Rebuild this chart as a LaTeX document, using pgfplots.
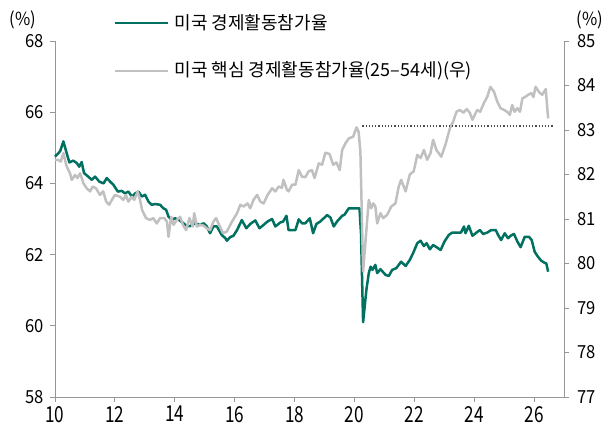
\documentclass[border=0pt]{standalone}
\usepackage{pgfplots}
\pgfplotsset{compat=1.18}
\usepackage{fontspec}
\setmainfont{Noto Sans CJK KR}
\newfontfamily\yfont[FakeStretch=0.92]{Noto Sans CJK KR}
\newfontfamily\xfont[FakeStretch=0.78]{Noto Sans CJK KR}
\definecolor{lfpr}{RGB}{0,112,96}
\definecolor{prime}{RGB}{192,192,192}
\definecolor{axgray}{RGB}{150,150,150}
\begin{document}
\begin{tikzpicture}[font=\fontsize{18}{21}\selectfont]
\pgfplotsset{
  base/.style={
    at={(0pt,0pt)}, anchor=south west,
    scale only axis, width=509pt, height=356pt,
    xmin=10, xmax=27,
    /pgf/number format/assume math mode=true,
    tick align=outside, major tick length=4.5pt,
    every tick/.style={axgray, line width=0.8pt},
    axis line style={axgray, line width=0.8pt},
    y tick label style={font=\yfont\fontsize{18}{21}\selectfont, text=black},
    x tick label style={font=\xfont\fontsize{22}{24}\selectfont, text=black},
    clip=false,
  }
}
\begin{axis}[base,
  axis x line*=bottom, axis y line*=left,
  ymin=58, ymax=68, ytick={58,60,...,68},
  xtick={10,12,...,26},
  x tick label style={yshift=-1pt},
  y tick label style={xshift=-3pt},
]
\addplot[lfpr, line width=2.5pt, line join=round] coordinates {
(10.0,64.75)(10.17,64.9)(10.28,65.18)(10.39,64.85)(10.48,64.59)(10.61,64.64)(10.73,64.57)(10.81,64.47)(10.89,64.6)(10.97,64.29)
(11.11,64.19)(11.23,64.1)(11.34,64.19)(11.48,64.05)(11.62,64.0)(11.73,64.15)(11.84,64.05)(11.95,63.96)
(12.1,63.77)(12.23,63.79)(12.34,63.72)(12.45,63.77)(12.57,63.63)(12.68,63.72)(12.79,63.77)(12.9,63.63)
(13.01,63.68)(13.12,63.49)(13.23,63.4)(13.34,63.42)(13.51,63.4)(13.62,63.3)(13.71,63.26)(13.79,63.07)(13.9,62.97)
(14.01,63.02)(14.15,62.97)(14.29,62.88)(14.4,62.8)(14.51,62.8)(14.68,62.88)(14.85,62.83)(14.96,62.88)
(15.07,62.79)(15.18,62.6)(15.29,62.79)(15.41,62.79)(15.57,62.55)(15.69,62.46)(15.74,62.39)(15.85,62.49)(15.96,62.53)
(16.08,62.69)(16.24,62.97)(16.39,62.74)(16.52,62.86)(16.69,62.96)(16.83,62.74)(16.96,62.83)
(17.1,62.93)(17.25,63.0)(17.36,62.79)(17.52,62.9)(17.62,62.93)(17.73,63.09)(17.8,62.69)
(18.03,62.69)(18.14,62.99)(18.25,62.88)(18.36,62.88)(18.51,63.02)(18.62,62.6)(18.73,62.86)(18.86,62.93)
(19.09,63.11)(19.2,63.04)(19.31,62.79)(19.42,62.93)(19.59,63.09)(19.67,63.12)(19.81,63.3)
(20.09,63.3)(20.17,63.3)(20.22,62.6)(20.29,60.1)(20.4,61.01)(20.48,61.48)(20.54,61.66)(20.6,61.57)(20.7,61.71)(20.76,61.48)(20.87,61.59)
(21.04,61.43)(21.15,61.4)(21.26,61.57)(21.4,61.62)(21.56,61.8)(21.71,61.68)(21.85,61.85)(21.96,62.04)
(22.1,62.32)(22.21,62.39)(22.32,62.24)(22.41,62.32)(22.52,62.15)(22.63,62.27)(22.74,62.21)(22.88,62.13)
(23.01,62.37)(23.15,62.55)(23.27,62.62)(23.45,62.62)(23.56,62.62)(23.66,62.79)(23.71,62.6)(23.82,62.81)(23.94,62.53)
(24.05,62.6)(24.19,62.69)(24.3,62.58)(24.44,62.62)(24.57,62.69)(24.72,62.69)(24.8,62.55)(24.9,62.41)
(25.02,62.6)(25.13,62.46)(25.22,62.53)(25.33,62.58)(25.44,62.37)(25.55,62.21)(25.69,62.5)(25.83,62.5)(25.92,62.41)
(26.02,62.08)(26.13,61.94)(26.24,61.83)(26.35,61.77)(26.41,61.75)(26.47,61.52)
};
\node[font=\yfont\fontsize{18}{21}\selectfont] at (rel axis cs:-0.063,1.059) {(\%)};
\draw[lfpr, line width=2.5pt] (rel axis cs:0.118,1.0506) -- (rel axis cs:0.222,1.0506);
\node[anchor=west] at (rel axis cs:0.228,1.0506) {미국 경제활동참가율};
\draw[prime, line width=2.5pt] (rel axis cs:0.118,0.916) -- (rel axis cs:0.222,0.916);
\node[anchor=west] at (rel axis cs:0.228,0.916) {미국 핵심 경제활동참가율(25–54세)(우)};
\end{axis}
\begin{axis}[base,
  axis x line=none, axis y line*=right,
  ymin=77, ymax=85, ytick={77,78,...,85},
  y tick label style={xshift=5pt},
]
\addplot[prime, line width=2.5pt, line join=round] coordinates {
(10.0,82.33)(10.1,82.33)(10.19,82.29)(10.28,82.48)(10.39,82.18)(10.5,82.03)(10.56,81.88)(10.67,81.99)(10.75,81.92)(10.84,82.03)(10.95,81.8)
(11.06,81.69)(11.17,81.62)(11.26,81.73)(11.37,81.69)(11.5,81.54)(11.61,81.62)(11.71,81.39)(11.81,81.32)(11.9,81.43)
(12.0,81.54)(12.17,81.5)(12.28,81.43)(12.37,81.54)(12.45,81.39)(12.57,81.5)(12.65,81.43)(12.76,81.62)(12.84,81.43)(12.91,81.2)
(13.04,81.02)(13.17,80.98)(13.28,81.02)(13.4,80.9)(13.51,81.02)(13.65,81.02)(13.74,80.94)(13.79,80.6)(13.88,81.05)(13.96,80.87)
(14.07,80.98)(14.18,81.05)(14.27,80.87)(14.38,80.75)(14.49,81.02)(14.6,80.83)(14.65,81.13)(14.74,80.83)(14.85,80.87)(14.96,80.85)
(15.07,80.79)(15.18,80.75)(15.29,80.94)(15.38,81.02)(15.46,80.9)(15.61,80.68)(15.74,80.72)(15.91,80.94)
(16.08,81.13)(16.19,81.32)(16.3,81.28)(16.43,81.35)(16.52,81.24)(16.63,81.43)(16.75,81.54)(16.86,81.39)(16.97,81.35)
(17.1,81.54)(17.25,81.69)(17.36,81.62)(17.47,81.73)(17.58,81.7)(17.63,81.88)(17.75,81.65)(17.8,81.62)(17.92,81.77)
(18.03,81.77)(18.14,82.1)(18.25,81.95)(18.36,81.94)(18.47,82.07)(18.58,82.1)(18.67,81.92)(18.81,82.25)(18.92,82.22)
(19.03,82.49)(19.17,82.46)(19.29,82.22)(19.4,82.27)(19.51,82.1)(19.59,82.55)(19.7,82.7)(19.81,82.81)(19.96,82.85)
(20.07,83.06)(20.14,82.96)(20.2,82.51)(20.29,79.82)(20.4,80.75)(20.48,81.43)(20.56,81.24)(20.63,81.35)(20.7,81.28)(20.76,80.9)(20.87,81.13)(20.96,81.02)
(21.09,81.09)(21.23,81.28)(21.37,81.35)(21.48,81.73)(21.56,81.88)(21.71,81.62)(21.85,82.0)(21.98,82.07)
(22.1,82.44)(22.21,82.37)(22.32,82.55)(22.43,82.33)(22.54,82.48)(22.63,82.78)(22.74,82.55)(22.9,82.4)
(23.04,82.67)(23.19,83.04)(23.3,83.19)(23.41,83.41)(23.52,83.45)(23.64,83.39)(23.75,83.47)(23.86,83.38)(23.94,83.23)
(24.1,83.45)(24.2,83.41)(24.32,83.6)(24.44,83.75)(24.54,83.97)(24.66,83.86)(24.77,83.64)(24.88,83.49)
(25.0,83.45)(25.1,83.41)(25.19,83.34)(25.27,83.56)(25.35,83.41)(25.44,83.49)(25.53,83.41)(25.61,83.71)(25.72,83.75)(25.8,83.79)(25.91,83.83)(25.98,83.74)
(26.05,83.97)(26.16,83.86)(26.27,83.79)(26.39,83.92)(26.47,83.26)
};
\addplot[black!70, line width=1.2pt, dotted] coordinates {(20.27,83.09)(26.62,83.09)};
\node[font=\yfont\fontsize{18}{21}\selectfont] at (rel axis cs:1.051,1.059) {(\%)};
\end{axis}
\pgfresetboundingbox
\path[use as bounding box] (-55pt,-37pt) rectangle (558pt,397pt);
\end{tikzpicture}
\end{document}
